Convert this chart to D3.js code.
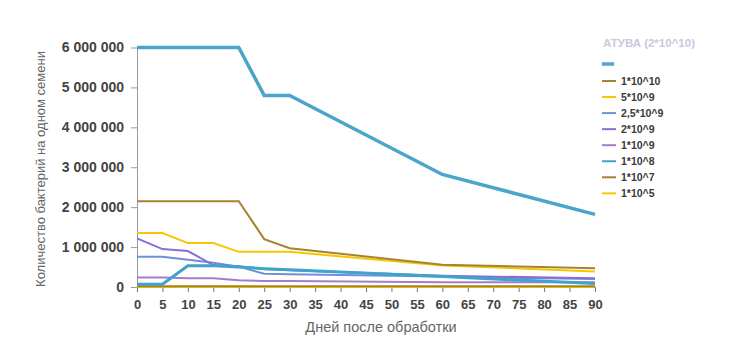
<!DOCTYPE html>
<html><head><meta charset="utf-8">
<script src="https://cdn.jsdelivr.net/npm/d3@7"></script>
<style>
body{margin:0;background:#fff;}
svg{font-family:"Liberation Sans",Arial,sans-serif;}
</style></head>
<body><svg id="c" width="736" height="360"></svg>
<script>
const days = [0,5,10,15,20,25,30,60,90];
const xTicks = d3.range(0,95,5);
const yTicks = [0,1000000,2000000,3000000,4000000,5000000,6000000];
const legendTitle = "АТУВА (2*10^10)";
const seriesNames = ["", "1*10^10", "5*10^9", "2,5*10^9", "2*10^9", "1*10^9", "1*10^8", "1*10^7", "1*10^5"];
const seriesColors = ["#4BA4CB","#A6842F","#F6C700","#6E8FDA","#8C6CD8","#A57BCB","#3FA3CC","#A3822C","#F6C800"];
const seriesWidths = [3.5,2,2,2,2,2,3,2,2];
const sMain   = [6000000,6000000,6000000,6000000,6000000,4800000,4800000,2820000,1820000];
const s1e10   = [2150000,2150000,2150000,2150000,2150000,1200000,970000,560000,470000];
const s5e9    = [1350000,1350000,1100000,1100000,880000,880000,880000,540000,390000];
const s25e9   = [760000,760000,680000,610000,510000,330000,320000,260000,200000];
const s2e9    = [1220000,950000,900000,550000,520000,450000,420000,280000,220000];
const s1e9    = [240000,240000,220000,220000,170000,150000,150000,120000,120000];
const s1e8    = [70000,70000,530000,530000,500000,460000,430000,260000,90000];
const s1e7    = [20000,20000,20000,20000,20000,20000,20000,20000,20000];
const s1e5    = [0,0,0,0,0,0,0,0,0];
const seriesValues = [sMain,s1e10,s5e9,s25e9,s2e9,s1e9,s1e8,s1e7,s1e5];

const svg = d3.select("#c");
const x = d3.scaleLinear().domain([0,90]).range([137,595]);
const y = d3.scaleLinear().domain([0,6000000]).range([287,47.5]);
const fmt = v => d3.format(",")(v).replace(/,/g," ");

// y axis
const ya = svg.append("g").attr("transform","translate(137,0)")
  .call(d3.axisLeft(y).tickValues(yTicks).tickFormat(fmt).tickSize(6).tickSizeOuter(0));
ya.select(".domain").attr("stroke","#9a9a9a");
ya.selectAll(".tick line").attr("stroke","#9a9a9a");
ya.selectAll("text").attr("font-size",14).attr("font-weight","bold").attr("fill","#444").attr("x",-13);

// x axis
const xa = svg.append("g").attr("transform","translate(0,287)")
  .call(d3.axisBottom(x).tickValues(xTicks).tickSize(5).tickSizeOuter(0));
xa.select(".domain").attr("stroke","#9a9a9a");
xa.selectAll(".tick line").attr("stroke","#777");
xa.selectAll("text").attr("font-size",13).attr("font-weight","bold").attr("fill","#444").attr("dy","1.05em");

// lines
const line = d3.line().x((d,i)=>x(days[i])).y(d=>y(d));
const order = [8,7,5,3,4,6,2,1,0];
order.forEach(k=>{
  svg.append("path").datum(seriesValues[k]).attr("d",line)
    .attr("fill","none").attr("stroke",seriesColors[k]).attr("stroke-width",seriesWidths[k])
    .attr("stroke-linejoin","miter");
});

// titles
svg.append("text").attr("x",381).attr("y",332).attr("text-anchor","middle")
  .attr("font-size",14.5).attr("fill","#666").text("Дней после обработки");
svg.append("text").attr("transform","translate(45,169) rotate(-90)").attr("text-anchor","middle")
  .attr("font-size",13).attr("fill","#666").text("Количество бактерий на одном семени");

// legend
svg.append("text").attr("x",603).attr("y",47).attr("font-size",11.5).attr("font-weight","bold")
  .attr("fill","#CBC7DF").text(legendTitle);
const lg = svg.append("g");
seriesNames.forEach((n,i)=>{
  const yy = i===0 ? 64 : 81 + (i-1)*16.05;
  lg.append("line").attr("x1",602).attr("x2", i===0?614:616).attr("y1",yy).attr("y2",yy)
    .attr("stroke",seriesColors[i]).attr("stroke-width", i===0?3.5:2);
  if(n) lg.append("text").attr("x",621).attr("y",yy+3.7).attr("font-size",10.5).attr("font-weight","bold")
    .attr("fill","#3a3a3a").text(n);
});
</script></body></html>
